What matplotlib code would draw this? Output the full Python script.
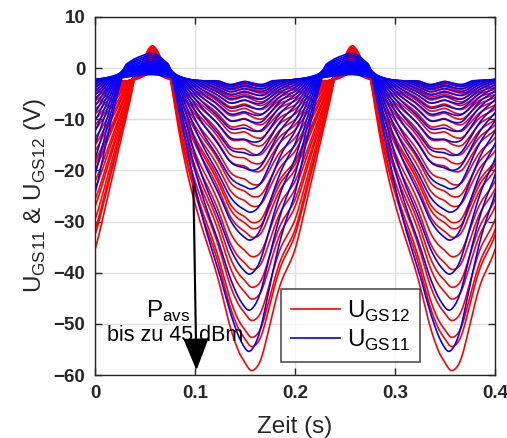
import numpy as np
import matplotlib.pyplot as plt

plt.rcParams['font.family'] = ['Liberation Sans', 'DejaVu Sans']
plt.rcParams['mathtext.fontset'] = 'custom'
plt.rcParams['mathtext.rm'] = 'Liberation Sans'

# one period (0 .. 0.2 s) of the deepest curve of each family
red_t = [0.000, 0.010, 0.020, 0.030, 0.040, 0.050, 0.057, 0.065, 0.075, 0.085,
         0.095, 0.105, 0.115, 0.125, 0.135, 0.145, 0.155, 0.165, 0.175, 0.185,
         0.195, 0.200]
red_v = [-36.0, -27.5, -19.0, -10.5, -2.5, 3.0, 5.0, 3.0, -2.5, -14.0,
         -23.0, -30.0, -35.5, -41.5, -49.0, -56.5, -60.2, -57.0, -49.0, -42.0,
         -38.0, -36.0]
blue_t = [0.000, 0.010, 0.020, 0.030, 0.040, 0.055, 0.068, 0.075, 0.085, 0.095,
          0.105, 0.115, 0.125, 0.135, 0.145, 0.153, 0.163, 0.172, 0.182, 0.191,
          0.200]
blue_v = [-26.0, -17.0, -9.0, -2.5, 2.0, 4.0, 1.0, -3.0, -11.0, -19.5,
          -27.5, -34.0, -39.5, -46.0, -53.5, -57.0, -52.5, -44.0, -36.0, -30.0,
          -26.0]

# hump above the clamp level (normalised shape)
red_hump_t = [0.000, 0.035, 0.045, 0.052, 0.057, 0.063, 0.070, 0.080, 0.090, 0.200]
red_hump_v = [0.0, 0.0, 0.35, 0.8, 1.0, 0.8, 0.35, 0.05, 0.0, 0.0]
blue_hump_t = [0.000, 0.025, 0.040, 0.055, 0.062, 0.075, 0.090, 0.100, 0.110, 0.170, 0.190, 0.200]
blue_hump_v = [0.18, 0.45, 0.8, 1.0, 0.95, 0.55, 0.25, 0.06, 0.0, 0.0, 0.08, 0.18]

# small ripple that shows up in the shallow curves
ripple_t = [0.000, 0.100, 0.120, 0.135, 0.150, 0.168, 0.185, 0.200]
ripple_v = [0.0, 0.0, -0.3, -1.0, 0.6, -0.8, 0.0, 0.0]

# minimum of every curve (V)
red_min = [-59.3, -54.6, -52.8, -49.5, -45.3, -43.0, -39.5, -37.0, -33.2, -31.5,
           -30.3, -27.1, -25.2, -22.8, -20.2, -18.6, -16.8, -15.0, -13.4, -12.0,
           -10.7, -9.6, -8.6, -7.7, -6.9, -6.2, -5.6, -5.0, -4.5, -4.1,
           -3.7, -3.3, -3.0]
blue_min = [-56.2, -48.1, -41.0, -34.3, -28.8, -24.2, -20.5, -17.5, -14.8, -12.6,
            -10.8, -9.3, -8.0, -6.9, -6.0, -5.2, -4.5, -3.9, -3.4, -3.0]

clamp = -2.5
red_hump_max = 7.3
blue_hump_max = 5.5
ripple_amp = 4.0

dt = 0.0005
tp = np.arange(400) * dt
t_full = np.arange(801) * dt


def smooth(y, sigma):
    n = int(round(4 * sigma / dt))
    k = np.arange(-n, n + 1) * dt
    w = np.exp(-0.5 * (k / sigma) ** 2)
    w /= w.sum()
    ypad = np.concatenate([y[-n:], y, y[:n]])
    return np.convolve(ypad, w, mode='valid')


def family(kt, kv, ht, hv, hmax, minima):
    base = smooth(np.interp(tp, kt, kv, period=0.2), 0.003)
    hump = smooth(np.interp(tp, ht, hv, period=0.2), 0.002)
    rip = smooth(np.interp(tp, ripple_t, ripple_v, period=0.2), 0.003)
    curves = []
    for m in minima:
        c = m / minima[0]
        u = c * base + ripple_amp * np.sqrt(min(c, 0.2)) * rip
        v = smooth(np.minimum(u, clamp), 0.0008) + hmax * np.sqrt(c) * hump
        curves.append(np.concatenate([v, v, v[:1]]))
    return curves


fig = plt.figure(figsize=(5.07, 4.38), dpi=100)
ax = fig.add_axes([0.1874, 0.1438, 0.789, 0.8174])

lab12 = r'U$_{\mathregular{GS}}$$_{\mathregular{12}}$'
lab11 = r'U$_{\mathregular{GS}}$$_{\mathregular{11}}$'

for i, v in enumerate(family(red_t, red_v, red_hump_t, red_hump_v, red_hump_max, red_min)):
    ax.plot(t_full, v, color='#ff0000', lw=1.2, label=lab12 if i == 0 else None)
for i, v in enumerate(family(blue_t, blue_v, blue_hump_t, blue_hump_v, blue_hump_max, blue_min)):
    ax.plot(t_full, v, color='#0000ff', lw=1.2, label=lab11 if i == 0 else None)

ax.set_xlim(0, 0.4)
ax.set_ylim(-60, 10)
ax.set_xticks([0, 0.1, 0.2, 0.3, 0.4])
ax.set_xticklabels(['0', '0.1', '0.2', '0.3', '0.4'])
ax.set_yticks(np.arange(-60, 11, 10))
ax.grid(True, color='#dfdfdf', lw=1)
ax.set_axisbelow(True)
ax.tick_params(direction='in', length=5, width=1, top=True, right=True,
               labelsize=13.5, colors='#262626', pad=7)
for lab in ax.get_xticklabels() + ax.get_yticklabels():
    lab.set_fontweight('bold')
for s in ax.spines.values():
    s.set_color('#262626')
    s.set_linewidth(1)

ax.set_xlabel('Zeit (s)', fontsize=17.5, color='#262626', labelpad=10)
ax.set_ylabel(lab11 + ' & ' + lab12 + ' (V)', fontsize=17.5, color='#262626', labelpad=4)

ax.annotate('', xy=(0.1015, -59.6), xytext=(0.0983, -22.5),
            arrowprops=dict(arrowstyle='-|>,head_length=1.0,head_width=0.4',
                            color='black', lw=1.5, mutation_scale=20))
ax.text(0.073, -47.5, r'P$_{\mathregular{avs}}$', fontsize=17.5, ha='center', va='center')
ax.text(0.080, -52.3, 'bis zu 45 dBm', fontsize=15.5, ha='center', va='center')

leg = ax.legend(loc='lower left', bbox_to_anchor=(0.466, 0.035), fontsize=17.5,
                frameon=True, fancybox=False, edgecolor='#262626',
                handlelength=2.0, handletextpad=0.3, borderpad=0.4,
                labelspacing=0.15, borderaxespad=0)
leg.get_frame().set_linewidth(1.2)

fig.savefig('out.png', dpi=100)
